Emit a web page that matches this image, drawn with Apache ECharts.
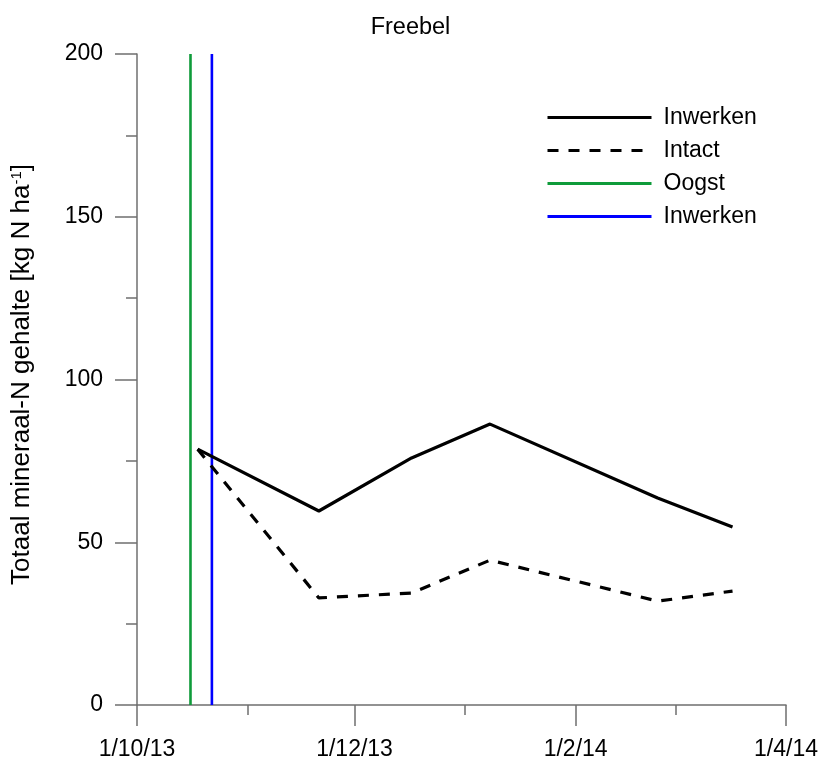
<!DOCTYPE html>
<html>
<head>
<meta charset="utf-8">
<script src="https://cdn.jsdelivr.net/npm/echarts@6/dist/echarts.min.js"></script>
<style>
  html, body { margin: 0; padding: 0; background: #ffffff; }
  #chart { width: 821px; height: 762px; }
</style>
</head>
<body>
<div id="chart"></div>
<script>
// Sampling dates and mineral-N values (kg N/ha)
const measureDates = ['2013-10-18', '2013-11-21', '2013-12-17', '2014-01-08', '2014-02-24', '2014-03-17'];
const inwerkenValues = [78.6, 59.6, 75.9, 86.3, 63.6, 54.7];
const intactValues = [78.6, 32.9, 34.4, 44.5, 31.9, 35.0];

// Management events drawn as vertical markers
const oogstDate = '2013-10-16';
const inwerkenDate = '2013-10-22';
const eventSpan = [0, 200];

// Axis ticks
const axisStart = '2013-10-01';
const axisEnd = '2014-04-01';
const majorTickDates = ['2013-10-01', '2013-12-01', '2014-02-01', '2014-04-01'];
const minorTickDates = ['2013-11-01', '2014-01-01', '2014-03-01'];
const tickLabels = ['1/10/13', '1/12/13', '1/2/14', '1/4/14'];

// Legend entries: series key -> shown text
const legendLabels = {
  inwerkenMeting: 'Inwerken',
  intactMeting: 'Intact',
  oogst: 'Oogst',
  inwerkenMoment: 'Inwerken'
};

// Dates are placed on a numeric axis as millisecond timestamps (UTC)
function toTime(s) {
  const p = s.split('-').map(Number);
  return Date.UTC(p[0], p[1] - 1, p[2]);
}

const majorTimes = majorTickDates.map(toTime);
const minorTimes = minorTickDates.map(toTime);

const FONT = 'Liberation Sans, Arial, sans-serif';
const AXIS_COLOR = '#6f6f6f';

const chart = echarts.init(document.getElementById('chart'));

const option = {
  backgroundColor: '#ffffff',
  animation: false,
  textStyle: { fontFamily: FONT },
  title: {
    text: 'Freebel',
    left: 'center',
    top: 11,
    textStyle: { fontFamily: FONT, fontSize: 23.5, fontWeight: 'normal', color: '#000' }
  },
  legend: {
    orient: 'vertical',
    left: 546,
    top: 106,
    padding: 0,
    itemWidth: 104,
    itemHeight: 20,
    itemGap: 10,
    data: ['inwerkenMeting', 'intactMeting', 'oogst', 'inwerkenMoment'],
    formatter: function (name) { return legendLabels[name]; },
    itemStyle: { opacity: 0 },
    lineStyle: { width: 3 },
    textStyle: { fontFamily: FONT, fontSize: 23, color: '#000', padding: [0, 0, 0, 7] }
  },
  grid: { left: 137, right: 34, top: 54, bottom: 57, containLabel: false },
  xAxis: [
    {
      type: 'value',
      min: toTime(axisStart),
      max: toTime(axisEnd),
      position: 'bottom',
      axisLine: { show: true, onZero: false, lineStyle: { color: AXIS_COLOR, width: 1.5 } },
      axisTick: { show: true, length: 21, customValues: majorTimes, lineStyle: { color: AXIS_COLOR, width: 1.5 } },
      axisLabel: {
        show: true,
        customValues: majorTimes,
        margin: 33,
        fontFamily: FONT,
        fontSize: 23,
        color: '#000',
        formatter: function (v) {
          const i = majorTimes.indexOf(v);
          return i >= 0 ? tickLabels[i] : '';
        }
      },
      splitLine: { show: false }
    },
    {
      type: 'value',
      min: toTime(axisStart),
      max: toTime(axisEnd),
      position: 'bottom',
      axisLine: { show: false, onZero: false },
      axisTick: { show: true, length: 10, customValues: minorTimes, lineStyle: { color: AXIS_COLOR, width: 1.5 } },
      axisLabel: { show: false },
      splitLine: { show: false }
    }
  ],
  yAxis: {
    type: 'value',
    min: 0,
    max: 200,
    interval: 50,
    name: '{t|Totaal mineraal-N gehalte [kg N ha}{s|-1}{t|]}',
    nameLocation: 'middle',
    nameGap: 102,
    nameTextStyle: {
      padding: [0, 0, 0, 10],
      rich: {
        t: { fontFamily: FONT, fontSize: 26, color: '#000' },
        s: { fontFamily: FONT, fontSize: 15, color: '#000', verticalAlign: 'top', padding: [0, 0, 11, 0] }
      }
    },
    axisLine: { show: true, onZero: false, lineStyle: { color: AXIS_COLOR, width: 1.5 } },
    axisTick: { show: true, length: 22, lineStyle: { color: AXIS_COLOR, width: 1.5 } },
    minorTick: { show: true, splitNumber: 2, length: 11, lineStyle: { color: AXIS_COLOR, width: 1.5 } },
    axisLabel: { margin: 34, fontFamily: FONT, fontSize: 23, color: '#000' },
    splitLine: { show: false }
  },
  series: [
    {
      name: 'oogst',
      type: 'line',
      xAxisIndex: 0,
      symbol: 'none',
      color: '#0f9b3a',
      lineStyle: { color: '#0f9b3a', width: 2.6 },
      data: eventSpan.map(v => [toTime(oogstDate), v])
    },
    {
      name: 'inwerkenMoment',
      type: 'line',
      xAxisIndex: 0,
      symbol: 'none',
      color: '#0000ff',
      lineStyle: { color: '#0000ff', width: 2.6 },
      data: eventSpan.map(v => [toTime(inwerkenDate), v])
    },
    {
      name: 'inwerkenMeting',
      type: 'line',
      xAxisIndex: 0,
      symbol: 'none',
      color: '#000',
      lineStyle: { color: '#000', width: 3.2 },
      data: measureDates.map((d, i) => [toTime(d), inwerkenValues[i]])
    },
    {
      name: 'intactMeting',
      type: 'line',
      xAxisIndex: 0,
      symbol: 'none',
      color: '#000',
      lineStyle: { color: '#000', width: 3.2, type: [11, 10] },
      data: measureDates.map((d, i) => [toTime(d), intactValues[i]])
    }
  ]
};

chart.setOption(option);
</script>
</body>
</html>
